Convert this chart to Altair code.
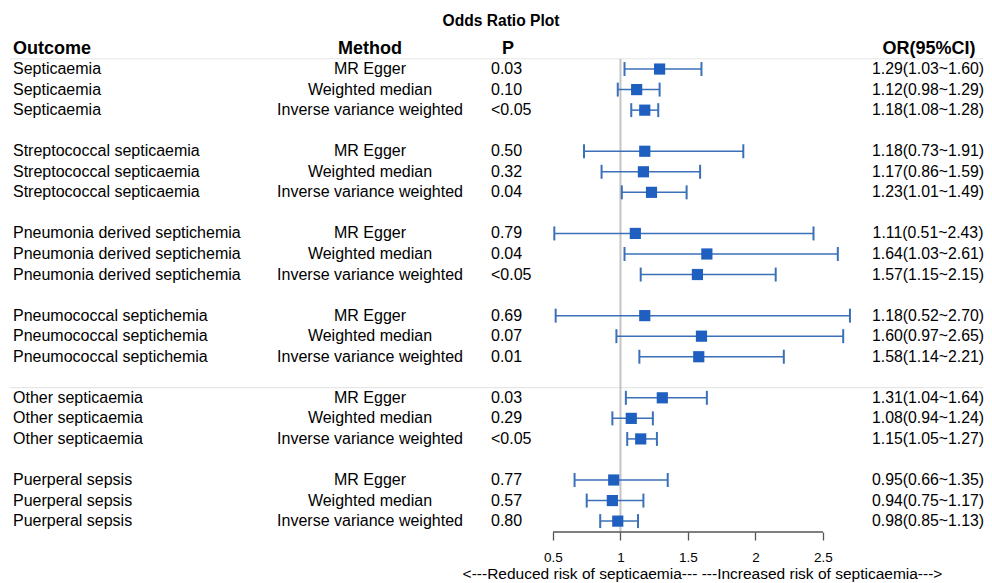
import altair as alt
import pandas as pd

# ---- data ----
outcomes = ["Septicaemia", "Streptococcal septicaemia", "Pneumonia derived septichemia",
            "Pneumococcal septichemia", "Other septicaemia", "Puerperal sepsis"]
methods = ["MR Egger", "Weighted median", "Inverse variance weighted"]
p_values = ["0.03", "0.10", "<0.05",
            "0.50", "0.32", "0.04",
            "0.79", "0.04", "<0.05",
            "0.69", "0.07", "0.01",
            "0.03", "0.29", "<0.05",
            "0.77", "0.57", "0.80"]
or_est = [1.29, 1.12, 1.18, 1.18, 1.17, 1.23, 1.11, 1.64, 1.57,
          1.18, 1.60, 1.58, 1.31, 1.08, 1.15, 0.95, 0.94, 0.98]
ci_low = [1.03, 0.98, 1.08, 0.73, 0.86, 1.01, 0.51, 1.03, 1.15,
          0.52, 0.97, 1.14, 1.04, 0.94, 1.05, 0.66, 0.75, 0.85]
ci_high = [1.60, 1.29, 1.28, 1.91, 1.59, 1.49, 2.43, 2.61, 2.15,
           2.70, 2.65, 2.21, 1.64, 1.24, 1.27, 1.35, 1.17, 1.13]
x_ticks = [0.5, 1, 1.5, 2, 2.5]
headers = ["Outcome", "Method", "P", "OR(95%CI)"]
title_text = "Odds Ratio Plot"
axis_title = "<---Reduced risk of septicaemia--- ---Increased risk of septicaemia--->"
separator_rows = [0.5, 16.5]

rows = []
k = 0
for g, o in enumerate(outcomes):
    for m, meth in enumerate(methods):
        rows.append({
            "row": g * 4 + m + 1,
            "outcome": o,
            "method": meth,
            "p": p_values[k],
            "or": or_est[k],
            "lo": ci_low[k],
            "hi": ci_high[k],
            "label": f"{or_est[k]:.2f}({ci_low[k]:.2f}~{ci_high[k]:.2f})",
        })
        k += 1
df = pd.DataFrame(rows)

W, H = 976, 494
FONT = "Liberation Sans"
BLUE_LINE = "#3b70b8"
BLUE_BOX = "#1f5fbf"

xs = alt.Scale(domain=[-3.537, 3.693], nice=False, zero=False)
ys = alt.Scale(domain=[-0.511, 23.53], nice=False, zero=False, reverse=True)

base = alt.Chart(df)

def col_text(field, xpix, align, size=16, weight="normal"):
    return base.mark_text(align=align, baseline="middle", fontSize=size,
                          font=FONT, color="black", fontWeight=weight).encode(
        x=alt.value(xpix),
        y=alt.Y("row:Q", scale=ys, axis=None),
        text=f"{field}:N",
    )

hdr_df = pd.DataFrame({"h": headers, "row": [0] * 4})
hdr_pos = [(5, "left"), (362, "center"), (500, "center"), (921, "center")]
hdr_layers = []
for (xp, al), h in zip(hdr_pos, headers):
    hdr_layers.append(
        alt.Chart(hdr_df[hdr_df.h == h]).mark_text(
            align=al, baseline="middle", fontSize=18, fontWeight="bold",
            font=FONT, color="black").encode(
            x=alt.value(xp), y=alt.Y("row:Q", scale=ys, axis=None), text="h:N")
    )

title_layer = alt.Chart(pd.DataFrame({"t": [title_text]})).mark_text(
    align="center", baseline="middle", fontSize=15.6, fontWeight="bold",
    font=FONT, color="black").encode(x=alt.value(493), y=alt.value(-17), text="t:N")

sep = alt.Chart(pd.DataFrame({"row": separator_rows})).mark_rule(
    color="#e6e6e6", strokeWidth=1.2).encode(
    y=alt.Y("row:Q", scale=ys, axis=None), x=alt.value(2), x2=alt.value(975))

ref = alt.Chart(pd.DataFrame({"x": [1], "row": [0.5]})).mark_rule(
    color="#c4c4c4", strokeWidth=2).encode(
    x=alt.X("x:Q", scale=xs), y=alt.Y("row:Q", scale=ys, axis=None), y2=alt.value(H))

axis_line = alt.Chart(pd.DataFrame({"a": [min(x_ticks)], "b": [max(x_ticks)]})).mark_rule(
    color="#555555", strokeWidth=1.3).encode(
    x=alt.X("a:Q", scale=xs), x2="b:Q", y=alt.value(H))

ci = base.mark_rule(color=BLUE_LINE, strokeWidth=1.5).encode(
    x=alt.X("lo:Q", scale=xs,
            axis=alt.Axis(values=x_ticks, domain=False, grid=False, tickSize=8,
                          tickColor="#555555", tickWidth=1.3, labelFontSize=13.5,
                          labelFont=FONT, labelColor="black", labelPadding=10,
                          labelFlush=False, labelOverlap=False, format="~g",
                          title=axis_title, titleFont=FONT, titleFontSize=15.5,
                          titleFontWeight="normal", titleColor="black",
                          titleX=694, titleY=41, titleBaseline="middle",
                          titleAlign="center")),
    x2="hi:Q",
    y=alt.Y("row:Q", scale=ys, axis=None),
)

cap_lo = base.transform_calculate(r1="datum.row - 0.34", r2="datum.row + 0.34").mark_rule(
    color=BLUE_LINE, strokeWidth=2).encode(
    x=alt.X("lo:Q", scale=xs), y=alt.Y("r1:Q", scale=ys, axis=None), y2="r2:Q")
cap_hi = base.transform_calculate(r1="datum.row - 0.34", r2="datum.row + 0.34").mark_rule(
    color=BLUE_LINE, strokeWidth=2).encode(
    x=alt.X("hi:Q", scale=xs), y=alt.Y("r1:Q", scale=ys, axis=None), y2="r2:Q")

boxes = base.mark_square(size=125, color=BLUE_BOX, opacity=1, filled=True).encode(
    x=alt.X("or:Q", scale=xs), y=alt.Y("row:Q", scale=ys, axis=None))

chart = alt.layer(
    sep, ref, axis_line, ci, cap_lo, cap_hi, boxes,
    col_text("outcome", 5, "left"),
    col_text("method", 362, "center"),
    col_text("p", 483, "left"),
    col_text("label", 920, "center", size=15.8),
    *hdr_layers, title_layer,
).properties(
    width=W, height=H,
    autosize=alt.AutoSizeParams(type="none"),
    padding={"left": 0, "top": 30, "right": 0, "bottom": 51},
).configure(background="white", view=alt.ViewConfig(stroke=None))

chart.save("out.html", embed_options={"renderer": "svg", "actions": False})
